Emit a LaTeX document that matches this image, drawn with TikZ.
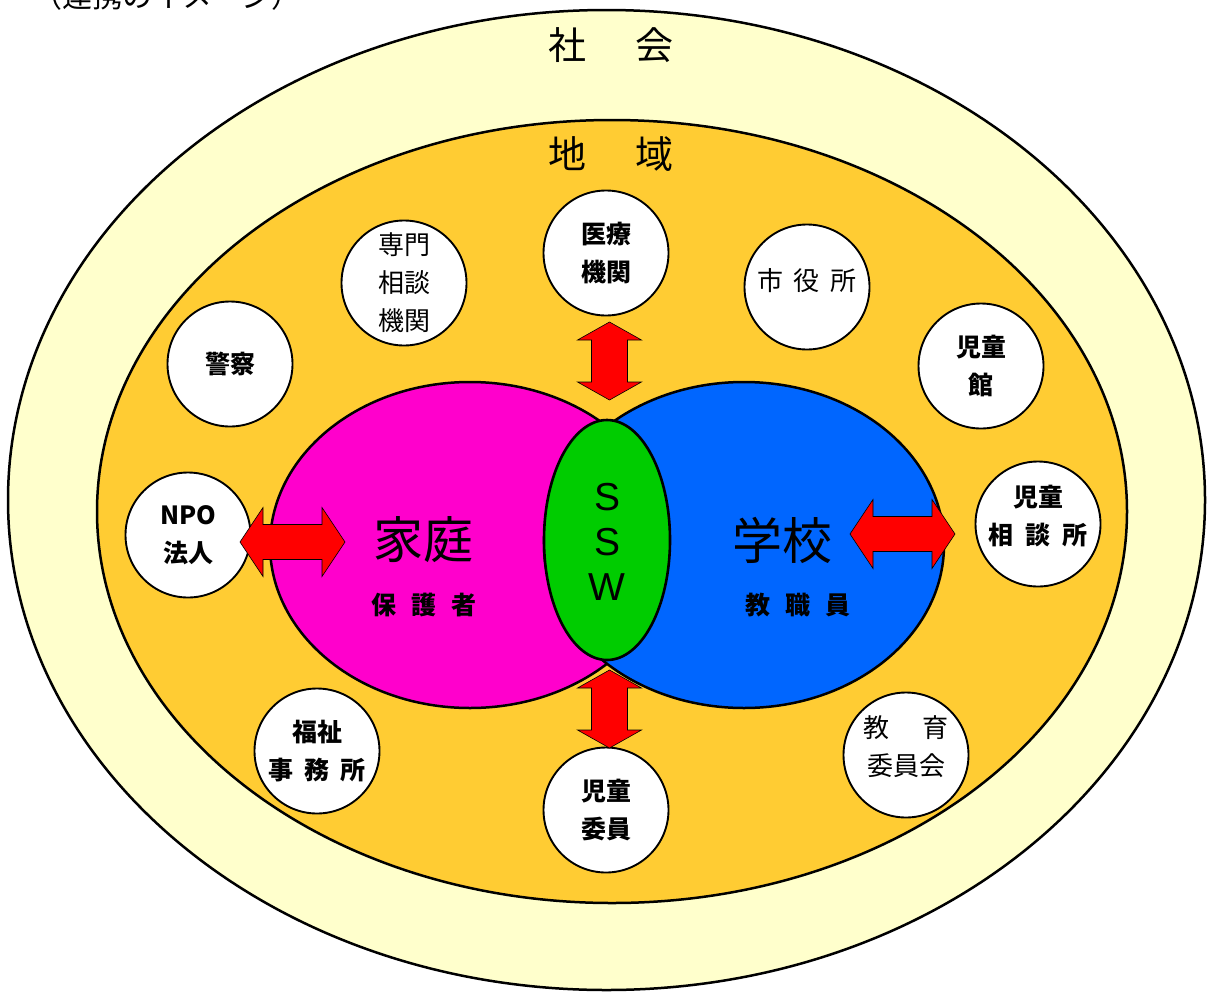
\documentclass[tikz,border=0pt]{standalone}
\usepackage{fontspec}
\newfontfamily\jp{Noto Sans CJK JP}
\newfontfamily\lat{Liberation Sans}
\usetikzlibrary{positioning}

\definecolor{shakai}{HTML}{FFFFCC}
\definecolor{chiiki}{HTML}{FFCC33}
\definecolor{katei}{HTML}{FF00CC}
\definecolor{gakko}{HTML}{0066FF}
\definecolor{ssw}{HTML}{00CC00}

\tikzstyle{ring}=[draw=black, line width=2.5pt]
\tikzstyle{org}=[circle, draw, fill=white, line width=1.9pt, minimum size=125pt,
  inner sep=0pt, align=center, font=\jp\bfseries\fontsize{25}{38}\selectfont]
\tikzstyle{orglight}=[org, font=\jp\fontsize{26}{38}\selectfont]
\tikzstyle{orgtext}=[align=center, inner sep=0pt, font=\jp\fontsize{26}{38}\selectfont]
\tikzstyle{bigarrow}=[fill=red, draw=black, line width=0.6pt, line join=miter]

% double arrow: center, angle, half length, head length, half head, half shaft
\newcommand{\twoway}[6]{%
  \filldraw[bigarrow, shift={(#1)}, rotate=#2]
    (-#3,0) -- (-#3+#4,#5) -- (-#3+#4,#6) -- (#3-#4,#6) -- (#3-#4,#5)
    -- (#3,0) -- (#3-#4,-#5) -- (#3-#4,-#6) -- (-#3+#4,-#6) -- (-#3+#4,-#5) -- cycle;}
\newcommand{\gapp}[1][0.6em]{\hspace{#1}}

\begin{document}
\begin{tikzpicture}[x=1pt, y=-1pt]
  \path[use as bounding box, clip] (0,0) rectangle (1215,991);

  % caption, cut at the top
  \node[anchor=base west, inner sep=0pt, font=\jp\fontsize{30}{30}\selectfont]
    (cap) at (32,7) {（連携のイメージ）};

  % society and region
  \draw[ring, fill=shakai] (606.5,500) ellipse [x radius=598.5, y radius=490];
  \draw[ring, fill=chiiki] (612,511.5) ellipse [x radius=515, y radius=391.5];

  % family, school, SSW
  \draw[ring, fill=katei] (470,545) ellipse [x radius=200, y radius=163];
  \draw[ring, fill=gakko] (744,545) ellipse [x radius=200, y radius=163];
  \draw[ring, line width=2.6pt, fill=ssw] (607,540) ellipse [x radius=63, y radius=120];

  \node[font=\jp\fontsize{38}{38}\selectfont] (society) at (611,45) {社\gapp[1.3em]会};
  \node[font=\jp\fontsize{38}{38}\selectfont] (region) at (611,154) {地\gapp[1.3em]域};

  \node[font=\jp\fontsize{50}{50}\selectfont] (family) at (423,540) {家庭};
  \node[font=\jp\bfseries\fontsize{25}{25}\selectfont] (parents) at (424,605) {保\gapp 護\gapp 者};
  \node[font=\jp\fontsize{50}{50}\selectfont] (school) at (782,540) {学校};
  \node[font=\jp\bfseries\fontsize{25}{25}\selectfont] (staff) at (798,605) {教\gapp 職\gapp 員};
  \node[align=center, font=\lat\fontsize{39}{45}\selectfont] (sswtext) at (607,542) {S\\S\\W};

  % partners in the region
  \node[org]      (med)     at (606,253) {医療\\機関};
  \node[orglight] (senmon)  at (404,283) {専門\\相談\\機関};
  \node[orglight] (city)    at (807,287) {};
  \node[org]      (police)  at (230,364) {警察};
  \node[org]      (kids)    at (981,366) {児童\\館};
  \node[org]      (npo)     at (188,535) {NPO\\法人};
  \node[org]      (jiso)    at (1038,524) {};
  \node[org]      (welfare) at (317,751) {福祉\\事\gapp[0.45em]務\gapp[0.45em]所};
  \node[org]      (iin)     at (606,810) {児童\\委員};
  \node[orglight] (board)   at (906,755) {};

  \node[orgtext] (citytext) at ([yshift=6pt]city.center) {市\gapp[0.4em]役\gapp[0.4em]所};
  \node[orgtext, font=\jp\bfseries\fontsize{25}{38}\selectfont]
    (jisotext) at ([yshift=8pt]jiso.center) {児童\\相\gapp[0.5em]談\gapp[0.5em]所};
  \node[orgtext] (boardtext) at ([yshift=8pt]board.center) {教\gapp[1.3em]育\\委員会};

  % links
  \coordinate (up)    at (609.5,361);
  \coordinate (down)  at (609.5,709);
  \coordinate (left)  at (292.5,542);
  \coordinate (right) at (902.5,534);
  \twoway{up}{90}{39}{18}{32}{18}
  \twoway{down}{90}{39}{18}{32}{18}
  \twoway{left}{0}{52.5}{23}{34.5}{17.5}
  \twoway{right}{0}{52.5}{23}{34.5}{17.5}
\end{tikzpicture}
\end{document}
